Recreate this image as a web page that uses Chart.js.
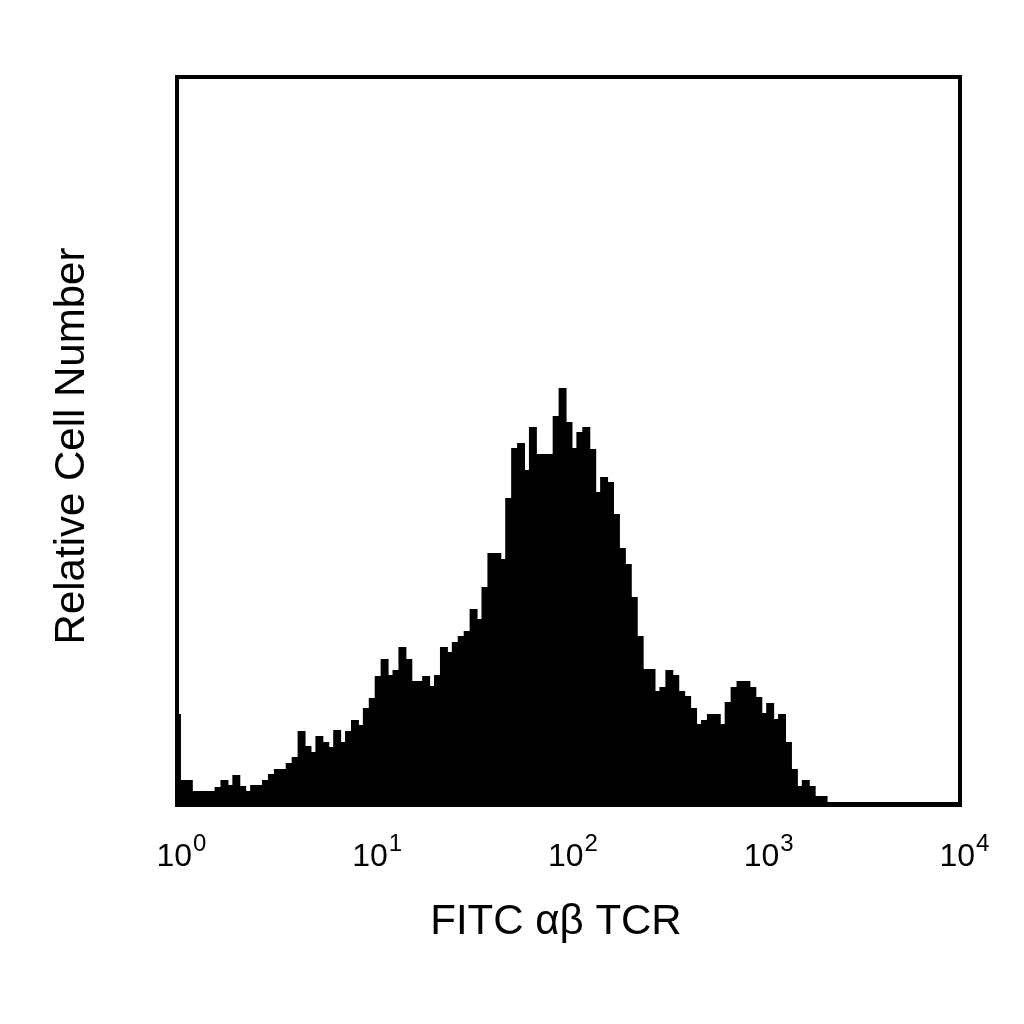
<!DOCTYPE html>
<html>
<head>
<meta charset="utf-8">
<script src="https://cdn.jsdelivr.net/npm/chart.js@4"></script>
<style>
  body { margin: 0; background: #fff; }
  #wrap { width: 1024px; height: 1024px; }
</style>
</head>
<body>
<div id="wrap"><canvas id="myChart" width="1024" height="1024"></canvas></div>
<script>
// histogram counts (relative), 133 channels across 4 log decades
let counts = [
  90, 24, 24, 13, 13, 13, 13, 17, 24, 19, 29, 18, 13, 19, 19, 24, 30, 35, 35, 41,
  47, 73, 58, 52, 68, 62, 57, 74, 62, 73, 84, 79, 96, 106, 128, 145, 129, 134, 157, 145,
  123, 123, 128, 118, 129, 157, 152, 162, 168, 173, 195, 185, 217, 251, 251, 245, 306, 356, 361, 334,
  377, 350, 350, 350, 388, 416, 382, 356, 372, 377, 355, 312, 327, 322, 290, 256, 240, 207, 168, 135,
  135, 113, 117, 134, 129, 113, 108, 96, 80, 84, 90, 90, 80, 102, 117, 123, 123, 117, 107, 91,
  101, 85, 90, 62, 35, 18, 24, 18, 8, 8
];
let binCount = 133;
while (counts.length < binCount) counts.push(2);

let channels = counts.map((c, i) => i);
let decadeTicks = [0, 1, 2, 3, 4];
let decadeExps = ["0", "1", "2", "3", "4"];
const FONT = "'Liberation Sans', Arial, sans-serif";

const framePlugin = {
  id: "frame",
  afterDraw(chart) {
    const { ctx, chartArea: a } = chart;
    ctx.save();
    ctx.strokeStyle = "#000";
    ctx.lineWidth = 4;
    ctx.strokeRect(a.left, a.top, a.right - a.left, a.bottom - a.top);
    ctx.fillStyle = "#000";
    // decade tick labels: 10 with superscript exponent
    ctx.textBaseline = "alphabetic";
    decadeTicks.forEach((v, i) => {
      const x = a.left + (v / 4) * (a.right - a.left);
      ctx.font = "32px " + FONT;
      const w1 = ctx.measureText("10").width;
      ctx.font = "24px " + FONT;
      const w2 = ctx.measureText(decadeExps[i]).width;
      const x0 = x - (w1 + w2) / 2 + 4;
      ctx.textAlign = "left";
      ctx.font = "32px " + FONT;
      ctx.fillText("10", x0, 866);
      ctx.font = "24px " + FONT;
      ctx.fillText(decadeExps[i], x0 + w1 + 1, 851);
    });
    ctx.font = "42px " + FONT;
    ctx.textAlign = "center";
    ctx.textBaseline = "middle";
    ctx.fillText("FITC αβ TCR", 556, 922);
    ctx.translate(72, 446);
    ctx.rotate(-Math.PI / 2);
    ctx.fillText("Relative Cell Number", 0, 0);
    ctx.restore();
  }
};

const ctx = document.getElementById("myChart");
new Chart(ctx, {
  type: "bar",
  data: {
    labels: channels,
    datasets: [{
      data: counts,
      backgroundColor: "#000",
      borderWidth: 0,
      inflateAmount: 1,
      barPercentage: 1.0,
      categoryPercentage: 1.0,
    }],
  },
  options: {
    responsive: false,
    animation: false,
    layout: { padding: { top: 77, right: 64, left: 0, bottom: 0 } },
    plugins: { legend: { display: false }, tooltip: { enabled: false } },
    scales: {
      x: {
        offset: false,
        afterFit: (s) => { s.height = 219; },
        grid: { display: false },
        border: { display: false },
        ticks: { display: false },
      },
      y: {
        min: 0,
        max: 728,
        afterFit: (s) => { s.width = 177; },
        grid: { display: false },
        border: { display: false },
        ticks: { display: false },
      },
    },
  },
  plugins: [framePlugin],
});
</script>
</body>
</html>
